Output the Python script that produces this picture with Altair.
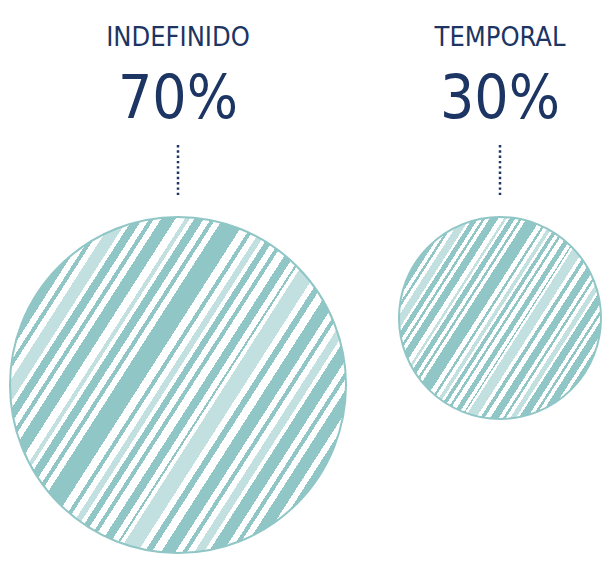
import altair as alt
import pandas as pd

# data
tipos = ["INDEFINIDO", "TEMPORAL"]
porcentajes = [70, 30]
etiquetas = ["70%", "30%"]

df = pd.DataFrame({"tipo": tipos, "pct": porcentajes, "etiqueta": etiquetas})

NAVY = "#1c3563"
TEAL = "#90c6c6"
LIGHT = "#c3e0e0"
FONT = "'DejaVu Sans Condensed', 'Liberation Sans Narrow', 'Roboto Condensed', Roboto, sans-serif"

# stripe texture (style only): (start, end, colour) bands along the gradient
bands = [(0.07, 0.10, TEAL), (0.115, 0.125, TEAL), (0.14, 0.17, LIGHT), (0.18, 0.20, TEAL),
         (0.215, 0.225, TEAL), (0.24, 0.27, TEAL), (0.29, 0.30, LIGHT), (0.31, 0.33, TEAL),
         (0.345, 0.355, TEAL), (0.37, 0.42, TEAL), (0.44, 0.45, TEAL), (0.465, 0.48, LIGHT),
         (0.49, 0.505, TEAL), (0.52, 0.53, TEAL), (0.55, 0.57, TEAL), (0.585, 0.59, TEAL),
         (0.60, 0.64, LIGHT), (0.655, 0.67, TEAL), (0.69, 0.72, TEAL), (0.735, 0.745, TEAL),
         (0.76, 0.78, LIGHT), (0.79, 0.82, TEAL), (0.835, 0.845, TEAL), (0.86, 0.89, TEAL),
         (0.905, 0.93, TEAL)]
stops = [{"offset": 0, "color": "white"}]
for s, e, c in bands:
    stops += [{"offset": s, "color": "white"}, {"offset": s, "color": c},
              {"offset": e, "color": c}, {"offset": e, "color": "white"}]
stops.append({"offset": 1, "color": "white"})

gradient = alt.Gradient(gradient="linear", stops=stops, x1=0, y1=0.18, x2=1, y2=0.82)

xenc = alt.X("tipo:N", sort=tipos, axis=None,
             scale=alt.Scale(type="point", range=[170, 492], padding=0))

base = alt.Chart(df)

circles = base.mark_point(shape="circle", filled=True, fill=gradient, stroke=TEAL,
                          strokeWidth=2, opacity=1).encode(
    x=xenc,
    y=alt.Y("pct:Q", axis=None, scale=alt.Scale(domain=[30, 70], range=[310, 377])),
    size=alt.Size("pct:Q", legend=None,
                  scale=alt.Scale(domain=[30, 70], range=[40804, 112896])),
)

labels = base.mark_text(font=FONT, fontSize=27, color=NAVY,
                        baseline="alphabetic", align="center").encode(
    x=xenc, y=alt.value(38), text="tipo:N")

nums = base.mark_text(font=FONT, fontSize=60, color=NAVY,
                      baseline="alphabetic", align="center").encode(
    x=xenc, y=alt.value(110), text="etiqueta:N")

rules = base.mark_rule(color=NAVY, strokeWidth=2.5, strokeDash=[2.4, 2.9]).encode(
    x=xenc, y=alt.value(137), y2=alt.value(187))

chart = alt.layer(circles, rules, labels, nums).properties(
    width=595, height=546,
    autosize=alt.AutoSizeParams(type="none"),
    padding=0,
).configure_view(stroke=None)

chart.save("out.html", embed_options={"renderer": "svg", "actions": False})
